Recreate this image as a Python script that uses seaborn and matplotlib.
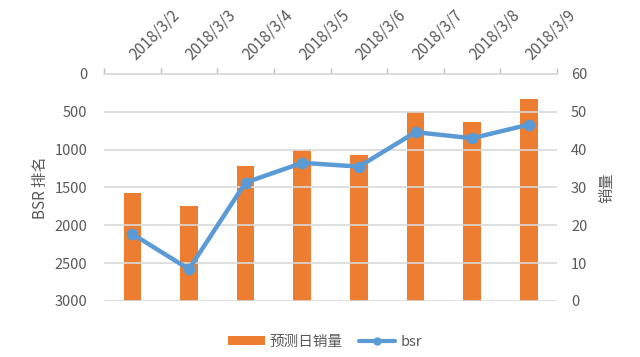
import matplotlib
matplotlib.use("Agg")
import matplotlib.pyplot as plt
import seaborn as sns
import numpy as np
from matplotlib.lines import Line2D
from matplotlib.patches import Patch
from matplotlib.ticker import FixedLocator

dates = ["2018/3/2", "2018/3/3", "2018/3/4", "2018/3/5",
         "2018/3/6", "2018/3/7", "2018/3/8", "2018/3/9"]
sales = [28.5, 25.2, 35.6, 39.8, 38.7, 50.0, 47.4, 53.3]
bsr = [2115, 2580, 1435, 1175, 1225, 770, 850, 670]
bsr_ticks = [0, 500, 1000, 1500, 2000, 2500, 3000]
sales_ticks = [0, 10, 20, 30, 40, 50, 60]

sns.set_theme(style="white")
plt.rcParams["font.family"] = ["Noto Sans CJK SC", "DejaVu Sans"]

orange = "#ED7D31"
blue = "#5B9BD5"
txt = "#595959"
grid = "#D9D9D9"

fig = plt.figure(figsize=(6.4, 3.57), dpi=100)
ax_bar = fig.add_axes([0.1625, 0.157, 0.708, 0.636])
ax_line = ax_bar.twinx()

sns.barplot(x=dates, y=sales, ax=ax_bar, color=orange, width=0.31,
            saturation=1, edgecolor="none")
sns.pointplot(x=dates, y=bsr, ax=ax_line, color=blue, markersize=6,
              linewidth=3.2)

# axes arrangement: BSR (line) on left inverted, sales (bars) on right
ax_line.yaxis.tick_left()
ax_line.yaxis.set_label_position("left")
ax_bar.yaxis.tick_right()
ax_bar.yaxis.set_label_position("right")

ax_line.set_ylim(3000, 0)
ax_line.set_yticks(bsr_ticks)
ax_bar.set_ylim(0, 60)
ax_bar.set_yticks(sales_ticks)
ax_bar.set_xlim(-0.5, len(dates) - 0.5)

ax_bar.yaxis.grid(False)
ax_line.yaxis.grid(True, color=grid, linewidth=1.2)
ax_line.set_axisbelow(True)
ax_bar.set_axisbelow(True)
for a in (ax_bar, ax_line):
    for s in a.spines.values():
        s.set_visible(False)
    a.tick_params(axis="y", length=0, labelsize=10.5, labelcolor=txt)
    a.set_xlabel("")

ax_line.tick_params(axis="y", pad=12)
ax_bar.tick_params(axis="y", pad=10)

# x axis on top
ax_bar.xaxis.tick_top()
ax_line.xaxis.set_visible(False)
ax_bar.tick_params(axis="x", which="major", length=0, labelsize=11,
                   labelcolor=txt, pad=12)
for lab in ax_bar.get_xticklabels():
    lab.set_rotation(45)
    lab.set_ha("left")
    lab.set_va("center")
    lab.set_rotation_mode("anchor")
ax_bar.xaxis.set_minor_locator(FixedLocator(np.arange(-0.5, len(dates), 1.0)))
ax_bar.tick_params(axis="x", which="minor", top=True, length=4,
                   color="#BFBFBF", width=1, direction="out")
ax_bar.spines["top"].set_visible(True)
ax_bar.spines["top"].set_color(grid)

ax_line.set_ylabel("BSR 排名", color=txt, fontsize=11, labelpad=4)
ax_bar.set_ylabel("销量", color=txt, fontsize=11, rotation=90, labelpad=8)

# line above bars
ax_line.set_zorder(ax_bar.get_zorder() + 1)
ax_line.patch.set_visible(False)

handles = [Patch(facecolor=orange, edgecolor="none", label="预测日销量"),
           Line2D([], [], color=blue, lw=3, marker="o", markersize=5,
                  label="bsr")]
fig.legend(handles=handles, loc="center", bbox_to_anchor=(0.508, 0.043),
           ncol=2, frameon=False, fontsize=10.5, labelcolor=txt,
           handlelength=2.5, handleheight=0.65, columnspacing=1.1,
           handletextpad=0.35)

fig.savefig("out.png", dpi=100)
